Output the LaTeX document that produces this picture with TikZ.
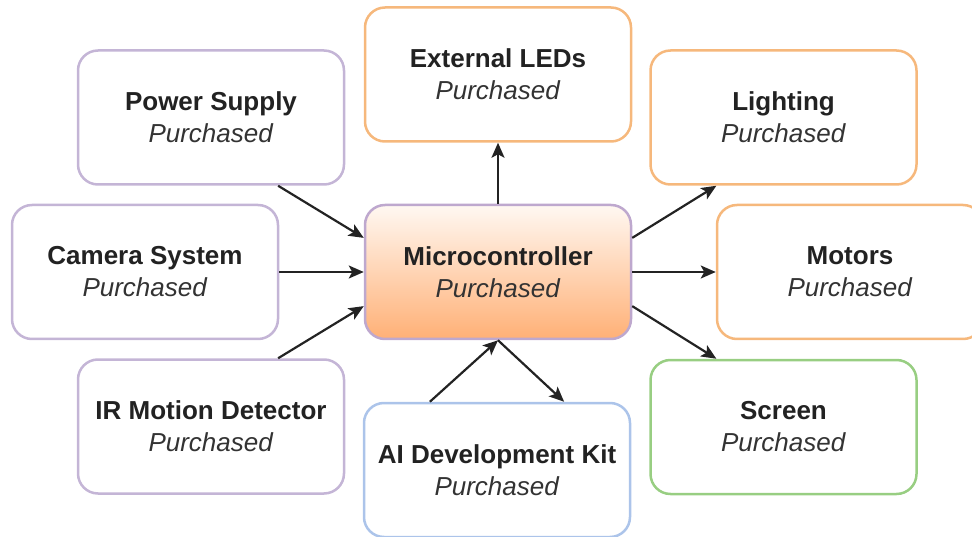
\documentclass[tikz,border=0pt]{standalone}
\usepackage{fontspec}
\setmainfont{Liberation Sans}
\usetikzlibrary{arrows.meta,calc}

\definecolor{cpurple}{RGB}{196,181,214}
\definecolor{corange}{RGB}{246,184,124}
\definecolor{cgreen}{RGB}{152,206,130}
\definecolor{cblue}{RGB}{172,196,234}
\definecolor{cmcborder}{RGB}{190,168,206}
\definecolor{cmctop}{RGB}{255,248,242}
\definecolor{cmcbottom}{RGB}{255,176,118}
\definecolor{ctitle}{RGB}{34,34,34}
\definecolor{csub}{RGB}{51,51,51}
\definecolor{cline}{RGB}{35,35,35}

\tikzset{
  box/.style={draw, line width=2.5pt, rounded corners=20pt,
    minimum width=266pt, minimum height=134pt, inner sep=0pt,
    fill=white, align=center, text=ctitle,
    font=\fontsize{26}{32}\selectfont},
  purplebox/.style={box, draw=cpurple},
  orangebox/.style={box, draw=corange},
  greenbox/.style={box, draw=cgreen},
  bluebox/.style={box, draw=cblue},
  hubbox/.style={box, draw=cmcborder, top color=cmctop, bottom color=cmcbottom},
  conn/.style={draw=cline, line width=2.2pt,
    -{Stealth[length=15pt,width=13pt,inset=3.5pt]}},
}
\newcommand{\comp}[1]{\textbf{#1}\\\textcolor{csub}{\textit{Purchased}}}

\begin{document}
\begin{tikzpicture}[x=1pt,y=-1pt]
  \useasboundingbox (0,0) rectangle (972,537);
  \clip (0,0) rectangle (972,537);

  % component boxes
  \node[purplebox] (ps)  at (211,117.5) {\comp{Power Supply}};
  \node[orangebox] (led) at (498,74.5)  {\comp{External LEDs}};
  \node[orangebox] (lig) at (783.5,117.5) {\comp{Lighting}};
  \node[purplebox] (cam) at (145,272)   {\comp{Camera System}};
  \node[hubbox]    (mc)  at (498,272)   {\comp{Microcontroller}};
  \node[orangebox] (mot) at (850,272)   {\comp{Motors}};
  \node[purplebox] (ir)  at (211,426.5) {\comp{IR Motion Detector}};
  \node[bluebox]   (ai)  at (497,470)   {\comp{AI Development Kit}};
  \node[greenbox]  (scr) at (783.5,427) {\comp{Screen}};

  % inputs to the microcontroller
  \draw[conn] ($(ps.south west)!0.75!(ps.south east)$) -- ($(mc.north west)!0.25!(mc.south west)$);
  \draw[conn] (cam.east) -- (mc.west);
  \draw[conn] ($(ir.north west)!0.75!(ir.north east)$) -- ($(mc.north west)!0.75!(mc.south west)$);

  % outputs from the microcontroller
  \draw[conn] (mc.north) -- (led.south);
  \draw[conn] ($(mc.north east)!0.25!(mc.south east)$) -- ($(lig.south west)!0.25!(lig.south east)$);
  \draw[conn] (mc.east) -- (mot.west);
  \draw[conn] ($(mc.north east)!0.75!(mc.south east)$) -- ($(scr.north west)!0.25!(scr.north east)$);

  % two-way link with the AI kit
  \draw[conn] ($(ai.north west)!0.25!(ai.north east)$) -- (mc.south);
  \draw[conn] (mc.south) -- ($(ai.north west)!0.75!(ai.north east)$);
\end{tikzpicture}
\end{document}
